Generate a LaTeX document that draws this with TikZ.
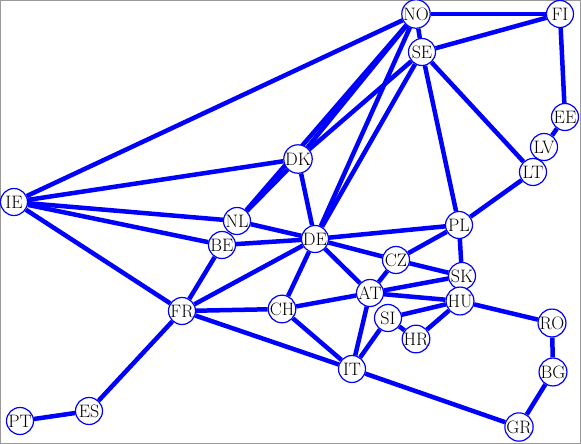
\documentclass[tikz,border=0pt]{standalone}
\usetikzlibrary{backgrounds}
\begin{document}
\begin{tikzpicture}[x=1pt,y=-1pt,
  country/.style={draw=blue, line width=1.2pt, fill=white, circle, inner sep=0pt,
    minimum size=27pt, font=\fontsize{18}{18}\selectfont},
  link/.style={blue, line width=4.5pt}]
  \useasboundingbox (0,0) rectangle (581,444);
  \draw[gray!80, line width=0.8pt] (0.5,0.5) rectangle (580.5,443.5);
  % countries
  \foreach \c/\x/\y in {
    NO/416/14, FI/560/14, SE/422/52, EE/565/117, LV/544/147, LT/533/172,
    DK/298/159, IE/14/202, NL/237/221, BE/222/245, DE/315/239, PL/459/225,
    CZ/396/260, SK/462/276, AT/370/293, HU/460/301, SI/388/318, HR/416/339,
    RO/552/323, BG/553/372, CH/282/309, FR/182/311, IT/352/369, GR/519/427,
    ES/89/411, PT/20/421}{
    \node[country] (\c) at (\x,\y) {\c};
  }
  % links
  \begin{scope}[on background layer]
    \foreach \a/\b in {
      NO/FI, NO/SE, NO/IE, NO/DK, NO/NL, NO/DE, SE/FI, SE/DK, SE/DE, SE/PL,
      SE/LT, FI/EE, EE/LV, LV/LT, LT/PL, IE/DK, IE/NL, IE/BE, IE/FR, DK/DE,
      DK/NL, NL/DE, BE/DE, BE/FR, DE/PL, DE/CZ, DE/AT, DE/CH, DE/FR, FR/CH,
      FR/IT, FR/ES, ES/PT, CH/AT, CH/IT, CZ/PL, CZ/SK, CZ/AT, PL/SK, AT/SK,
      AT/HU, AT/IT, SI/HU, SI/HR, HR/HU, SI/IT, HU/RO, RO/BG, BG/GR, GR/IT,
      HU/SK}{
      \draw[link] (\a) -- (\b);
    }
  \end{scope}
\end{tikzpicture}
\end{document}
